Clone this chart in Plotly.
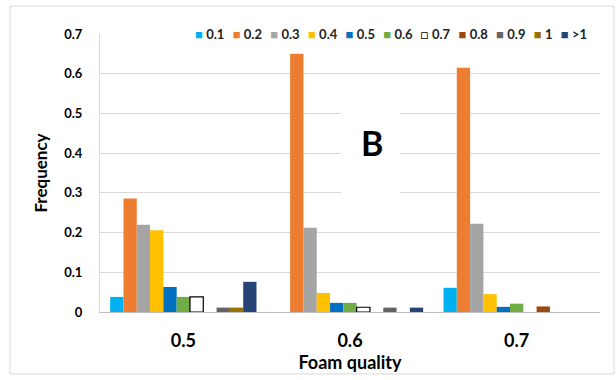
import plotly.graph_objects as go

categories = ["0.5", "0.6", "0.7"]
series_names = ["0.1", "0.2", "0.3", "0.4", "0.5", "0.6", "0.7", "0.8", "0.9", "1", ">1"]
series_values = {
    "0.1": [0.038, 0.0, 0.061],
    "0.2": [0.286, 0.650, 0.615],
    "0.3": [0.220, 0.212, 0.222],
    "0.4": [0.206, 0.048, 0.045],
    "0.5": [0.063, 0.023, 0.013],
    "0.6": [0.038, 0.023, 0.021],
    "0.7": [0.038, 0.012, 0.0],
    "0.8": [0.0, 0.0, 0.014],
    "0.9": [0.011, 0.011, 0.0],
    "1": [0.011, 0.0, 0.0],
    ">1": [0.076, 0.011, 0.0],
}
colors = ["#00B0F0", "#ED7D31", "#A5A5A5", "#FFC000", "#0070C0", "#70AD47",
          "#FFFFFF", "#9E480E", "#636363", "#997300", "#264478"]
y_ticks = [0, 0.1, 0.2, 0.3, 0.4, 0.5, 0.6, 0.7]
y_ticklabels = ["0", "0.1", "0.2", "0.3", "0.4", "0.5", "0.6", "0.7"]

FONT = "Lato, Open Sans, sans-serif"

fig = go.Figure()
for name, col in zip(series_names, colors):
    vals = [v if v > 0 else None for v in series_values[name]]
    outlined = col == "#FFFFFF"
    fig.add_trace(go.Bar(
        x=categories, y=vals, name=name,
        marker=dict(color=col,
                    line=dict(color="#000000" if outlined else col, width=1.2 if outlined else 0)),
        showlegend=False,
    ))

# custom compact legend as one annotation
parts = []
for name, col in zip(series_names, colors):
    if col == "#FFFFFF":
        sym = "<span style='color:#000000'>□</span>"
    else:
        sym = f"<span style='color:{col}'>■</span>"
    parts.append(f"{sym}&nbsp;<b>{name}</b>")
legend_text = "&nbsp;&nbsp;&#8201;".join(parts)

fig.add_annotation(text=legend_text, xref="paper", yref="paper", x=0.581, y=1.0,
                   xanchor="center", yanchor="middle", showarrow=False,
                   font=dict(family=FONT, size=13, color="#222222"))

# "B" label with white background box
fig.add_shape(type="rect", xref="x", yref="y", x0=0.946, x1=1.30, y0=0.282, y1=0.534,
              fillcolor="white", line=dict(width=0), layer="between")
fig.add_annotation(text="<b>B</b>", xref="x", yref="y", x=1.13, y=0.426,
                   showarrow=False, font=dict(family=FONT, size=34, color="#000000"))

# outer chart border
fig.add_shape(type="rect", xref="paper", yref="paper", x0=-0.18, x1=1.028, y0=-0.223, y1=1.1007,
              line=dict(color="#D9D9D9", width=1), fillcolor="rgba(0,0,0,0)", layer="below")

fig.update_layout(
    width=616, height=380,
    margin=dict(l=100, r=16, t=34, b=68),
    paper_bgcolor="white", plot_bgcolor="white",
    barmode="group", bargap=0.122, bargroupgap=0,
    font=dict(family=FONT, color="#000000"),
    xaxis=dict(
        showgrid=False, showline=True, linecolor="#BFBFBF", linewidth=1,
        tickvals=categories, ticktext=[f"<b>{c}</b>" for c in categories],
        tickfont=dict(size=18, family=FONT, color="#000000"),
        ticks="", ticklabelstandoff=12,
        title=dict(text="<b>Foam quality</b>", font=dict(size=18, family=FONT), standoff=4),
    ),
    yaxis=dict(
        range=[0, 0.7], tickvals=y_ticks, ticktext=[f"<b>{t}</b>" for t in y_ticklabels],
        showgrid=True, gridcolor="#D9D9D9", gridwidth=1,
        showline=True, linecolor="#D9D9D9", linewidth=1, zeroline=False,
        tickfont=dict(size=13, family=FONT, color="#000000"),
        ticks="", ticklabelstandoff=14,
        title=dict(text="<b>Frequency</b>", font=dict(size=17, family=FONT), standoff=12),
    ),
)

fig.write_html("out.html")
